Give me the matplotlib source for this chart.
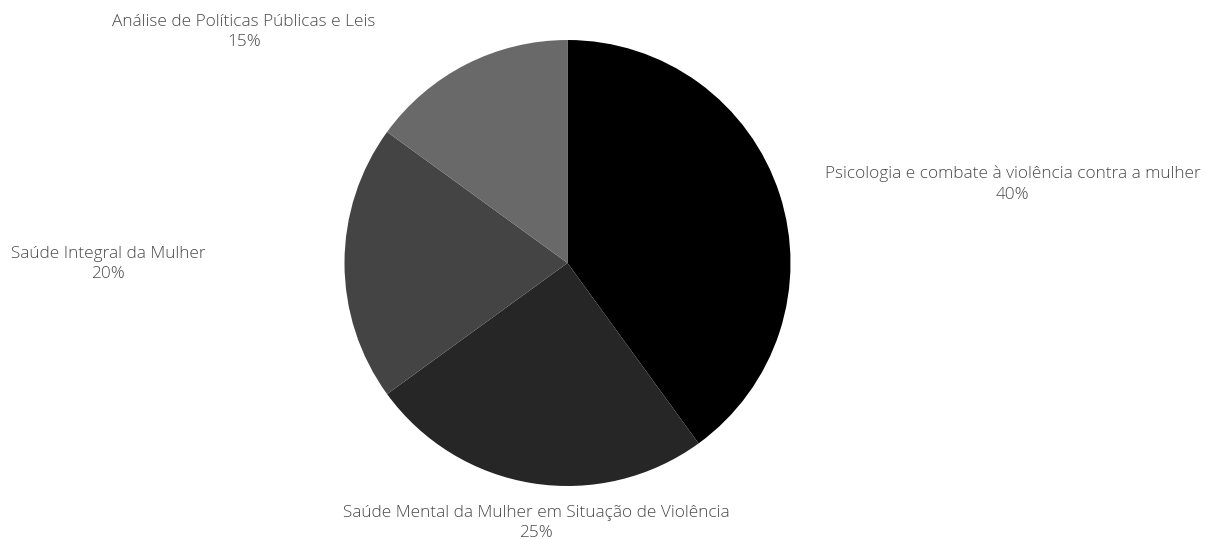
import matplotlib.pyplot as plt

# data
areas = ['Psicologia e combate à violência contra a mulher',
         'Saúde Mental da Mulher em Situação de Violência',
         'Saúde Integral da Mulher',
         'Análise de Políticas Públicas e Leis']
percent = [40, 25, 20, 15]
cores = ['#000000', '#262626', '#444444', '#696969']

W, H = 1207, 539
fig = plt.figure(figsize=(W / 100, H / 100), dpi=100)

# pie placed in pixels: centre (567, 263), radius 223
cx, cy, r = 567.5, 263, 223
ax = fig.add_axes([(cx - r) / W, (H - cy - r) / H, 2 * r / W, 2 * r / H])
ax.pie(percent, colors=cores, startangle=90, counterclock=False, radius=1,
       wedgeprops=dict(linewidth=0))
ax.set_xlim(-1, 1)
ax.set_ylim(-1, 1)
ax.set_aspect('equal')
ax.axis('off')

# label anchors (pixel centres of the two-line labels)
pos_labels = [(1013, 184), (536, 523), (108, 264), (244, 32)]
for nome, p, (x, y) in zip(areas, percent, pos_labels):
    fig.text(x / W, 1 - y / H, f'{nome}\n{p}%', ha='center', va='center',
             multialignment='center', fontsize=12.45, color='#4a4a4a',
             family=['Open Sans', 'DejaVu Sans'], fontweight='light',
             linespacing=1.38)

fig.savefig('out.png', dpi=100)
